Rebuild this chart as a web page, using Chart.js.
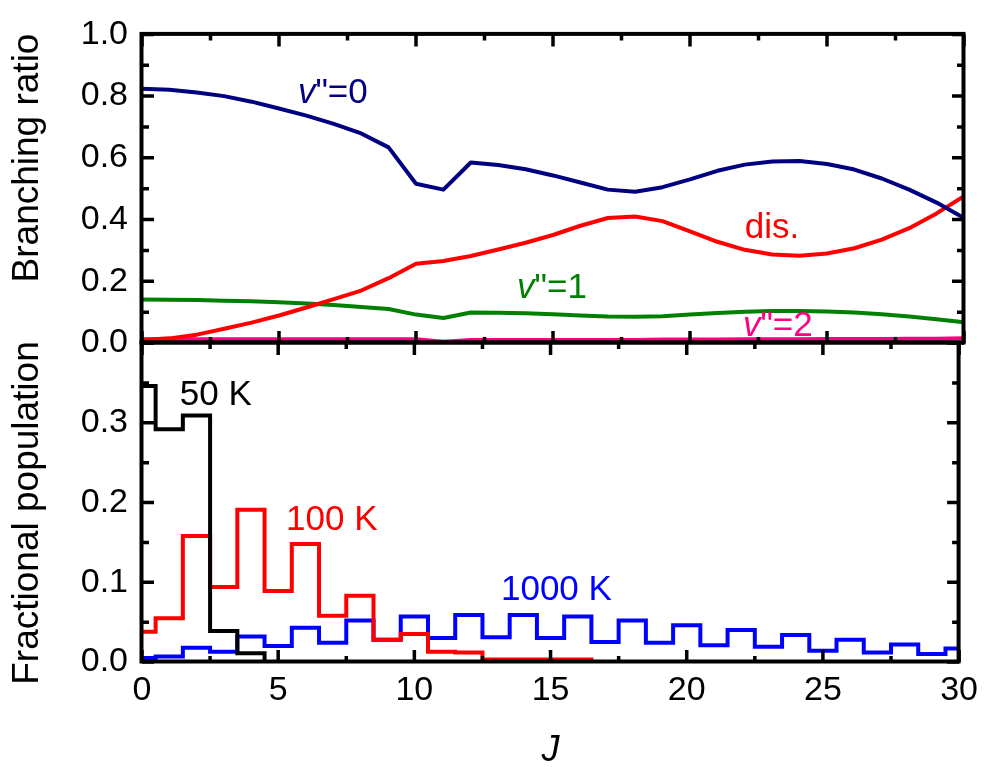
<!DOCTYPE html>
<html>
<head>
<meta charset="utf-8">
<title>Branching ratio and fractional population</title>
<script src="https://cdn.jsdelivr.net/npm/chart.js@4.4.1/dist/chart.umd.min.js"></script>
<style>
  body { margin: 0; background: #fff; }
  #wrap { position: relative; width: 986px; height: 767px; }
  #wrap canvas { position: absolute; left: 0; top: 0; }
</style>
</head>
<body>
<div id="wrap">
  <canvas id="ratio" width="986" height="767"></canvas>
  <canvas id="pop" width="986" height="767"></canvas>
</div>
<script>
// rotational quantum number J
const J = [0, 1, 2, 3, 4, 5, 6, 7, 8, 9, 10, 11, 12, 13, 14, 15, 16, 17, 18, 19, 20,
           21, 22, 23, 24, 25, 26, 27, 28, 29, 30];

// top panel: branching ratios
const ratioV0  = [0.824, 0.821, 0.812, 0.800, 0.782, 0.760, 0.737, 0.710, 0.679, 0.634, 0.516,
                  0.497, 0.585, 0.577, 0.563, 0.543, 0.520, 0.497, 0.490, 0.505, 0.530,
                  0.558, 0.578, 0.588, 0.590, 0.580, 0.562, 0.533, 0.497, 0.455, 0.405];
const ratioV1  = [0.141, 0.140, 0.139, 0.137, 0.135, 0.132, 0.128, 0.123, 0.117, 0.110, 0.092,
                  0.081, 0.099, 0.098, 0.096, 0.093, 0.089, 0.086, 0.085, 0.087, 0.092,
                  0.097, 0.101, 0.104, 0.104, 0.102, 0.099, 0.093, 0.086, 0.077, 0.067];
const ratioV2  = [0.012, 0.012, 0.012, 0.012, 0.012, 0.012, 0.012, 0.012, 0.012, 0.012, 0.012,
                  0.004, 0.010, 0.010, 0.010, 0.010, 0.010, 0.010, 0.010, 0.011, 0.011,
                  0.011, 0.012, 0.012, 0.012, 0.013, 0.013, 0.013, 0.014, 0.014, 0.015];
const ratioDis = [0.010, 0.015, 0.027, 0.046, 0.066, 0.089, 0.115, 0.142, 0.170, 0.210, 0.257,
                  0.266, 0.282, 0.303, 0.325, 0.350, 0.380, 0.405, 0.410, 0.395, 0.362,
                  0.328, 0.302, 0.287, 0.283, 0.290, 0.307, 0.335, 0.372, 0.420, 0.476];

// bottom panel: fractional population per J
const pop50   = [0.346, 0.292, 0.309, 0.039, 0.011, 0, 0, 0, 0, 0, 0,
                 0, 0, 0, 0, 0, 0, 0, 0, 0, 0,
                 0, 0, 0, 0, 0, 0, 0, 0, 0, 0];
const pop100  = [0.038, 0.055, 0.158, 0.094, 0.191, 0.089, 0.148, 0.058, 0.083, 0.028, 0.035,
                 0.013, 0.012, 0.003, 0.003, 0.003, 0.003, 0, 0, 0, 0,
                 0, 0, 0, 0, 0, 0, 0, 0, 0, 0];
const pop1000 = [0.005, 0.007, 0.018, 0.013, 0.032, 0.020, 0.043, 0.024, 0.052, 0.028, 0.057,
                 0.030, 0.059, 0.031, 0.059, 0.030, 0.057, 0.025, 0.052, 0.024, 0.046,
                 0.021, 0.040, 0.019, 0.034, 0.014, 0.028, 0.012, 0.022, 0.010, 0.017];

// tick labels and tick marks
const jLabels     = [0, 5, 10, 15, 20, 25, 30];
const jMarks      = [0, 2.5, 5, 7.5, 10, 12.5, 15, 17.5, 20, 22.5, 25, 27.5, 30];
const ratioLabels = [0, 0.2, 0.4, 0.6, 0.8, 1.0];
const ratioMarks  = [0, 0.1, 0.2, 0.3, 0.4, 0.5, 0.6, 0.7, 0.8, 0.9, 1.0];
const popLabels   = [0, 0.1, 0.2, 0.3];
const popMarks    = [0, 0.05, 0.1, 0.15, 0.2, 0.25, 0.3, 0.35, 0.4];

const FONT = 'Liberation Sans, Arial, sans-serif';
Chart.defaults.font.family = FONT;
Chart.defaults.color = '#000';

const pts = vals => J.map((j, i) => ({ x: j, y: vals[i] }));

// frame with inward ticks, rotated y title and in-plot labels
const decor = {
  id: 'decor',
  afterDatasetsDraw(chart, args, o) {
    const { ctx, chartArea: a, scales: { x, y } } = chart;
    ctx.save();
    ctx.strokeStyle = '#000';
    ctx.lineWidth = 3.5;
    ctx.lineCap = 'butt';
    ctx.beginPath();
    jMarks.forEach(v => {
      const px = x.getPixelForValue(v);
      const len = v % 5 === 0 ? 12 : 6;
      ctx.moveTo(px, a.bottom); ctx.lineTo(px, a.bottom - len);
      ctx.moveTo(px, a.top); ctx.lineTo(px, a.top + len);
    });
    o.yMarks.forEach(v => {
      const py = y.getPixelForValue(v);
      const r = v / o.yMajor;
      const len = Math.abs(r - Math.round(r)) < 1e-6 ? 12 : 7;
      ctx.moveTo(a.left, py); ctx.lineTo(a.left + len, py);
      ctx.moveTo(a.right, py); ctx.lineTo(a.right - len, py);
    });
    ctx.stroke();
    ctx.lineWidth = 4;
    ctx.strokeRect(a.left - 0.5, a.top - 0.5, a.right - a.left, a.bottom - a.top);

    // y axis title
    ctx.save();
    ctx.translate(o.title.cx, o.title.cy);
    ctx.rotate(-Math.PI / 2);
    ctx.font = '37px ' + FONT;
    ctx.fillStyle = '#000';
    ctx.textAlign = 'center';
    ctx.textBaseline = 'middle';
    ctx.fillText(o.title.text, 0, 0);
    ctx.restore();

    // curve labels, anchored in data coordinates
    ctx.textAlign = 'left';
    ctx.textBaseline = 'middle';
    o.labels.forEach(l => {
      let px = x.getPixelForValue(l.x);
      const py = y.getPixelForValue(l.y);
      ctx.fillStyle = l.color;
      if (l.ital) {
        ctx.font = 'italic 35px ' + FONT;
        ctx.fillText(l.ital, px, py);
        px += ctx.measureText(l.ital).width;
      }
      ctx.font = '35px ' + FONT;
      ctx.fillText(l.text, px, py);
    });
    ctx.restore();
  }
};

const lineSet = (label, vals, color) => ({
  label, data: pts(vals), borderColor: color, borderWidth: 4,
  pointRadius: 0, tension: 0, fill: false, borderJoinStyle: 'round'
});
const stepSet = (label, vals, color) => ({
  label, data: pts(vals), borderColor: color, borderWidth: 4,
  pointRadius: 0, stepped: 'middle', fill: false, borderJoinStyle: 'miter'
});

const common = {
  responsive: false,
  animation: false,
  events: [],
  plugins: { legend: { display: false }, tooltip: { enabled: false } }
};

new Chart(document.getElementById('ratio'), {
  type: 'line',
  data: {
    datasets: [
      lineSet('v"=0', ratioV0, '#000080'),
      lineSet('dis.', ratioDis, '#ff0000'),
      lineSet('v"=1', ratioV1, '#008000'),
      lineSet('v"=2', ratioV2, '#ff0080')
    ]
  },
  options: {
    ...common,
    layout: { padding: { top: 27, right: 22, bottom: 424, left: 0 } },
    scales: {
      x: { type: 'linear', min: 0, max: 30, display: false },
      y: {
        min: 0, max: 1,
        afterBuildTicks: s => { s.ticks = ratioLabels.map(v => ({ value: v })); },
        afterFit: s => { s.width = 142; },
        grid: { display: false, drawTicks: false },
        border: { display: false },
        ticks: { font: { size: 34 }, padding: 14, callback: v => v.toFixed(1) }
      }
    },
    plugins: {
      ...common.plugins,
      decor: {
        yMarks: ratioMarks, yMajor: 0.2,
        title: { text: 'Branching ratio', cx: 28, cy: 158 },
        labels: [
          { ital: 'v', text: '"=0', color: '#000080', x: 5.69, y: 0.81 },
          { text: 'dis.', color: '#ff0000', x: 22.0, y: 0.37 },
          { ital: 'v', text: '"=1', color: '#008000', x: 13.69, y: 0.177 },
          { ital: 'v', text: '"=2', color: '#ff0080', x: 21.93, y: 0.054 }
        ]
      }
    }
  },
  plugins: [decor]
});

new Chart(document.getElementById('pop'), {
  type: 'line',
  data: {
    datasets: [
      stepSet('50 K', pop50, '#000000'),
      stepSet('100 K', pop100, '#ff0000'),
      stepSet('1000 K', pop1000, '#0000ff')
    ]
  },
  options: {
    ...common,
    layout: { padding: { top: 343, right: 22, bottom: 0, left: 0 } },
    scales: {
      x: {
        type: 'linear', min: 0, max: 30,
        afterBuildTicks: s => { s.ticks = jLabels.map(v => ({ value: v })); },
        afterFit: s => { s.height = 105; },
        grid: { display: false, drawTicks: false },
        border: { display: false },
        ticks: { font: { size: 34 }, padding: 8, maxRotation: 0, callback: v => String(v) },
        title: { display: true, text: 'J', font: { size: 36, style: 'italic' }, padding: { top: 0, bottom: -6 } }
      },
      y: {
        min: 0, max: 0.4,
        afterBuildTicks: s => { s.ticks = popLabels.map(v => ({ value: v })); },
        afterFit: s => { s.width = 142; },
        grid: { display: false, drawTicks: false },
        border: { display: false },
        ticks: { font: { size: 34 }, padding: 14, callback: v => v.toFixed(1) }
      }
    },
    plugins: {
      ...common.plugins,
      decor: {
        yMarks: popMarks, yMajor: 0.1,
        title: { text: 'Fractional population', cx: 28, cy: 513 },
        labels: [
          { text: '50 K', color: '#000000', x: 1.39, y: 0.334 },
          { text: '100 K', color: '#ff0000', x: 5.29, y: 0.1775 },
          { text: '1000 K', color: '#0000ff', x: 13.18, y: 0.09 }
        ]
      }
    }
  },
  plugins: [decor]
});
</script>
</body>
</html>
